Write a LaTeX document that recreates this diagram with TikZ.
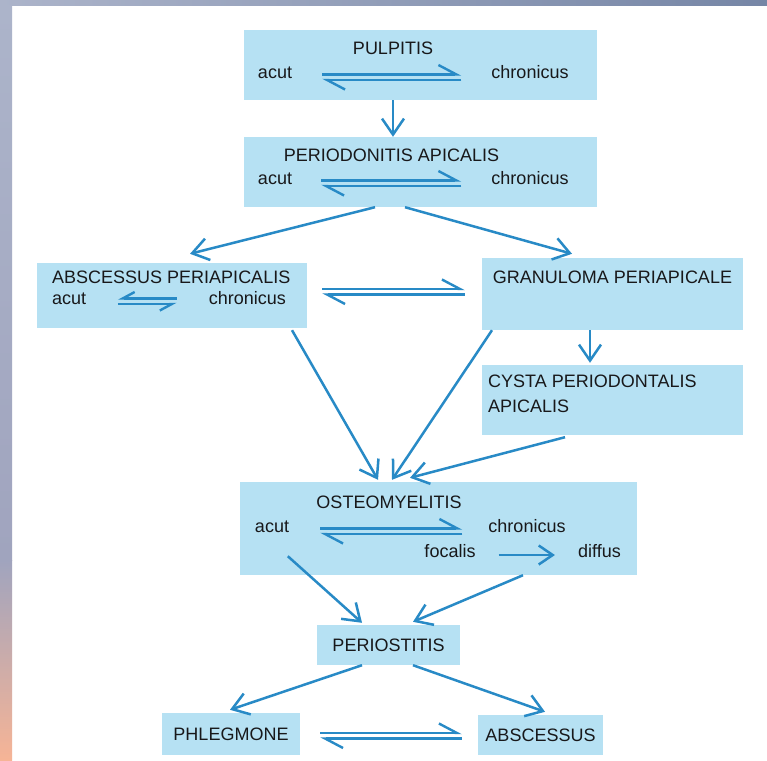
\documentclass[tikz,border=0pt]{standalone}
\usepackage{fontspec}
\setmainfont{Liberation Sans}
\usepackage{xcolor}
\usetikzlibrary{arrows.meta}
\usetikzlibrary{positioning}
\definecolor{boxblue}{RGB}{182,225,243}
\definecolor{arrowblue}{RGB}{40,138,198}
\definecolor{inkgrey}{RGB}{24,24,26}
\definecolor{bgtop}{RGB}{172,180,202}
\definecolor{bgtopdark}{RGB}{118,134,166}
\definecolor{bgmid}{RGB}{160,164,190}
\definecolor{bgpeach}{RGB}{246,180,150}
\tikzstyle{line} = [draw, arrowblue, line width=2.5pt, -{Straight Barb[length=16pt,width=22pt]}]
\tikzstyle{harp} = [draw, arrowblue, line width=2.4pt, -{Straight Barb[harpoon,length=18pt,width=19pt]}]
\tikzstyle{sharp} = [draw, arrowblue, line width=2.4pt, -{Straight Barb[harpoon,swap,length=12pt,width=13pt]}]
% two opposite harpoons between two points
\newcommand{\eqarrows}[4]{%
  \path [harp] ([#2, yshift=1.5pt]#1) -- ([#4, yshift=1.5pt]#3);
  \path [harp] ([#4, yshift=-4pt]#3) -- ([#2, yshift=-4pt]#1);}

\begin{document}
\begin{tikzpicture}[x=1pt, y=-1pt,
    every node/.style={font=\fontsize{18}{21}\selectfont},
    box/.style={fill=boxblue, inner sep=0pt, text=inkgrey},
    txt/.style={inner sep=0pt, text=inkgrey, anchor=mid},
    ltxt/.style={txt, anchor=mid west}]
  %% Background
  \fill [white] (0,0) rectangle (767,760);
  \useasboundingbox (0,0) rectangle (767,760);
  \shade [left color=bgtop, right color=bgtopdark] (0,0) rectangle (767,6);
  \shade [top color=bgtop, bottom color=bgmid] (0,6) rectangle (12,560);
  \shade [top color=bgmid, bottom color=bgpeach] (0,560) rectangle (12,760);

  %% Boxes
  \node [box, minimum width=353pt, minimum height=70pt] at (420.5,65) (pulp) {};
  \node [box, minimum width=353pt, minimum height=70pt] at (420.5,172) (perio) {};
  \node [box, minimum width=270pt, minimum height=65pt] at (172,295.5) (absc) {};
  \node [box, minimum width=261pt, minimum height=72pt] at (612.5,294) (gran) {};
  \node [box, minimum width=261pt, minimum height=70pt] at (612.5,400) (cyst) {};
  \node [box, minimum width=397pt, minimum height=93pt] at (438.5,528.5) (osteo) {};
  \node [box, minimum width=143pt, minimum height=40pt] at (388.5,645) (periost) {PERIOSTITIS};
  \node [box, minimum width=138pt, minimum height=42pt] at (231,734) (phleg) {PHLEGMONE};
  \node [box, minimum width=125pt, minimum height=40pt] at (540.5,735) (abscess) {ABSCESSUS};

  %% Texts
  \node [txt] at (393,52) (pulpT) {PULPITIS};
  \node [txt] at (275,76) (pulpA) {acut};
  \node [txt] at (530,76) (pulpC) {chronicus};
  \node [txt] at (391.5,159) (perT) {PERIODONITIS APICALIS};
  \node [txt] at (275,182) (perA) {acut};
  \node [txt] at (530,182) (perC) {chronicus};
  \node [ltxt] at (52,280.5) (absT) {ABSCESSUS PERIAPICALIS};
  \node [ltxt] at (52,302) (absA) {acut};
  \node [txt, anchor=mid east] at (286,302) (absC) {chronicus};
  \node [txt] at (612.5,281) (granT) {GRANULOMA PERIAPICALE};
  \node [ltxt] at (488,384.5) (cystT) {CYSTA PERIODONTALIS};
  \node [ltxt] at (488,409.5) (cystB) {APICALIS};
  \node [txt] at (389,506) (osT) {OSTEOMYELITIS};
  \node [txt] at (272,530) (osA) {acut};
  \node [txt] at (527,530) (osC) {chronicus};
  \node [txt] at (450,555) (osF) {focalis};
  \node [txt] at (599.5,555) (osD) {diffus};

  %% Equilibria
  \eqarrows{pulpA.mid east}{xshift=30pt}{pulpC.mid west}{xshift=-30pt}
  \eqarrows{perA.mid east}{xshift=29pt}{perC.mid west}{xshift=-30pt}
  \eqarrows{osA.mid east}{xshift=31pt}{osC.mid west}{xshift=-26pt}
  \eqarrows{absc.east}{xshift=15pt, yshift=5pt}{gran.west}{xshift=-17pt, yshift=3.5pt}
  \eqarrows{phleg.east}{xshift=20pt, yshift=-0.5pt}{abscess.west}{xshift=-16pt, yshift=0.5pt}
  \path [sharp] ([xshift=-32pt, yshift=3.5pt]absC.mid west) -- ([xshift=31.5pt, yshift=3.5pt]absA.mid east);
  \path [sharp] ([xshift=31.5pt, yshift=-2pt]absA.mid east) -- ([xshift=-32pt, yshift=-2pt]absC.mid west);

  %% Links
  \path [line] ([xshift=-27.5pt]pulp.south) -- ([xshift=-27.5pt]perio.north);
  \path [line] ([xshift=-45.5pt]perio.south) -- ([xshift=18pt,yshift=9pt]absc.north);
  \path [line] ([xshift=-15.5pt]perio.south) -- ([xshift=-40.5pt,yshift=4pt]gran.north);
  \path [line] ([xshift=-22.5pt]gran.south) -- ([xshift=-22.5pt,yshift=2pt]cyst.north);
  \path [line] ([xshift=120pt,yshift=-2pt]absc.south) -- ([xshift=-60.5pt,yshift=2pt]osteo.north);
  \path [line] ([xshift=-120.5pt]gran.south) -- ([xshift=-46.5pt,yshift=2pt]osteo.north);
  \path [line] ([xshift=-47.5pt,yshift=-2pt]cyst.south) -- ([xshift=-28.5pt,yshift=4pt]osteo.north);
  \path [line, -{Straight Barb[length=14pt,width=19pt]}, shorten <=23pt, shorten >=23pt] (osF.mid east) -- (osD.mid west);
  \path [line] ([xshift=48pt,yshift=19pt]osteo.south west) -- ([xshift=-26.5pt,yshift=2pt]periost.north);
  \path [line] ([xshift=84.5pt]osteo.south) -- ([xshift=24.5pt,yshift=3pt]periost.north);
  \path [line] ([xshift=-26.5pt]periost.south) -- ([xshift=-1pt,yshift=3pt]phleg.north);
  \path [line] ([xshift=24.5pt]periost.south) -- ([xshift=4.5pt,yshift=3pt]abscess.north);
\end{tikzpicture}
\end{document}
